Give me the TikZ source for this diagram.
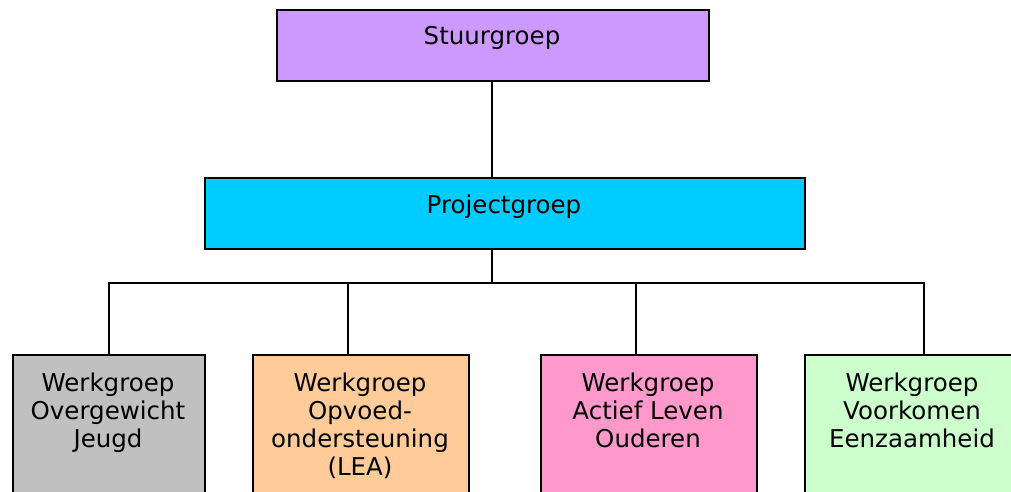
\documentclass[tikz,border=0pt]{standalone}
\usepackage{fontspec}
\setmainfont{DejaVu Sans}
\definecolor{cstuur}{HTML}{CC99FF}
\definecolor{cproj}{HTML}{00CCFF}
\definecolor{cgrey}{HTML}{C0C0C0}
\definecolor{corange}{HTML}{FFCC99}
\definecolor{cpink}{HTML}{FF99CC}
\definecolor{cgreen}{HTML}{CCFFCC}
\begin{document}
\begin{tikzpicture}[x=1pt,y=-1pt,
  box/.style={draw=black,line width=2.2pt,rectangle,inner sep=0pt,anchor=north west},
  lbl/.style={font=\fontsize{24.5}{28}\selectfont,align=center,inner sep=0pt,anchor=base},
  conn/.style={draw=black,line width=2.2pt}]
\useasboundingbox (0,0) rectangle (1011,492);
\clip (0,0) rectangle (1011,492);
\node[box,fill=cstuur,minimum width=432pt,minimum height=71pt] (stuur) at (276,9) {};
\node[box,fill=cproj,minimum width=600pt,minimum height=71pt] (proj) at (204,177) {};
\node[box,fill=cgrey,minimum width=192pt,minimum height=180pt] (w1) at (12,354) {};
\node[box,fill=corange,minimum width=216pt,minimum height=180pt] (w2) at (252,354) {};
\node[box,fill=cpink,minimum width=216pt,minimum height=180pt] (w3) at (540,354) {};
\node[box,fill=cgreen,minimum width=216pt,minimum height=180pt] (w4) at (804,354) {};
\node[lbl] (tstuur) at (492,45) {Stuurgroep};
\node[lbl] (tproj) at (504,213) {Projectgroep};
\node[lbl] (t1) at (108,447) {Werkgroep\\Overgewicht\\Jeugd};
\node[lbl] (t2) at (360,475) {Werkgroep\\Opvoed-\\ondersteuning\\(LEA)};
\node[lbl] (t3) at (648,447) {Werkgroep\\Actief Leven\\Ouderen};
\node[lbl] (t4) at (912,447) {Werkgroep\\Voorkomen\\Eenzaamheid};
\coordinate (bus) at (492,283);
\draw[conn] (stuur.south -| bus) -- (proj.north -| bus);
\draw[conn] (proj.south -| bus) -- (bus);
\draw[conn] (w1.north) |- (bus) -| (w4.north -| 924,0);
\draw[conn] (348,283) -- (w2.north -| 348,0);
\draw[conn] (636,283) -- (w3.north -| 636,0);
\end{tikzpicture}
\end{document}
